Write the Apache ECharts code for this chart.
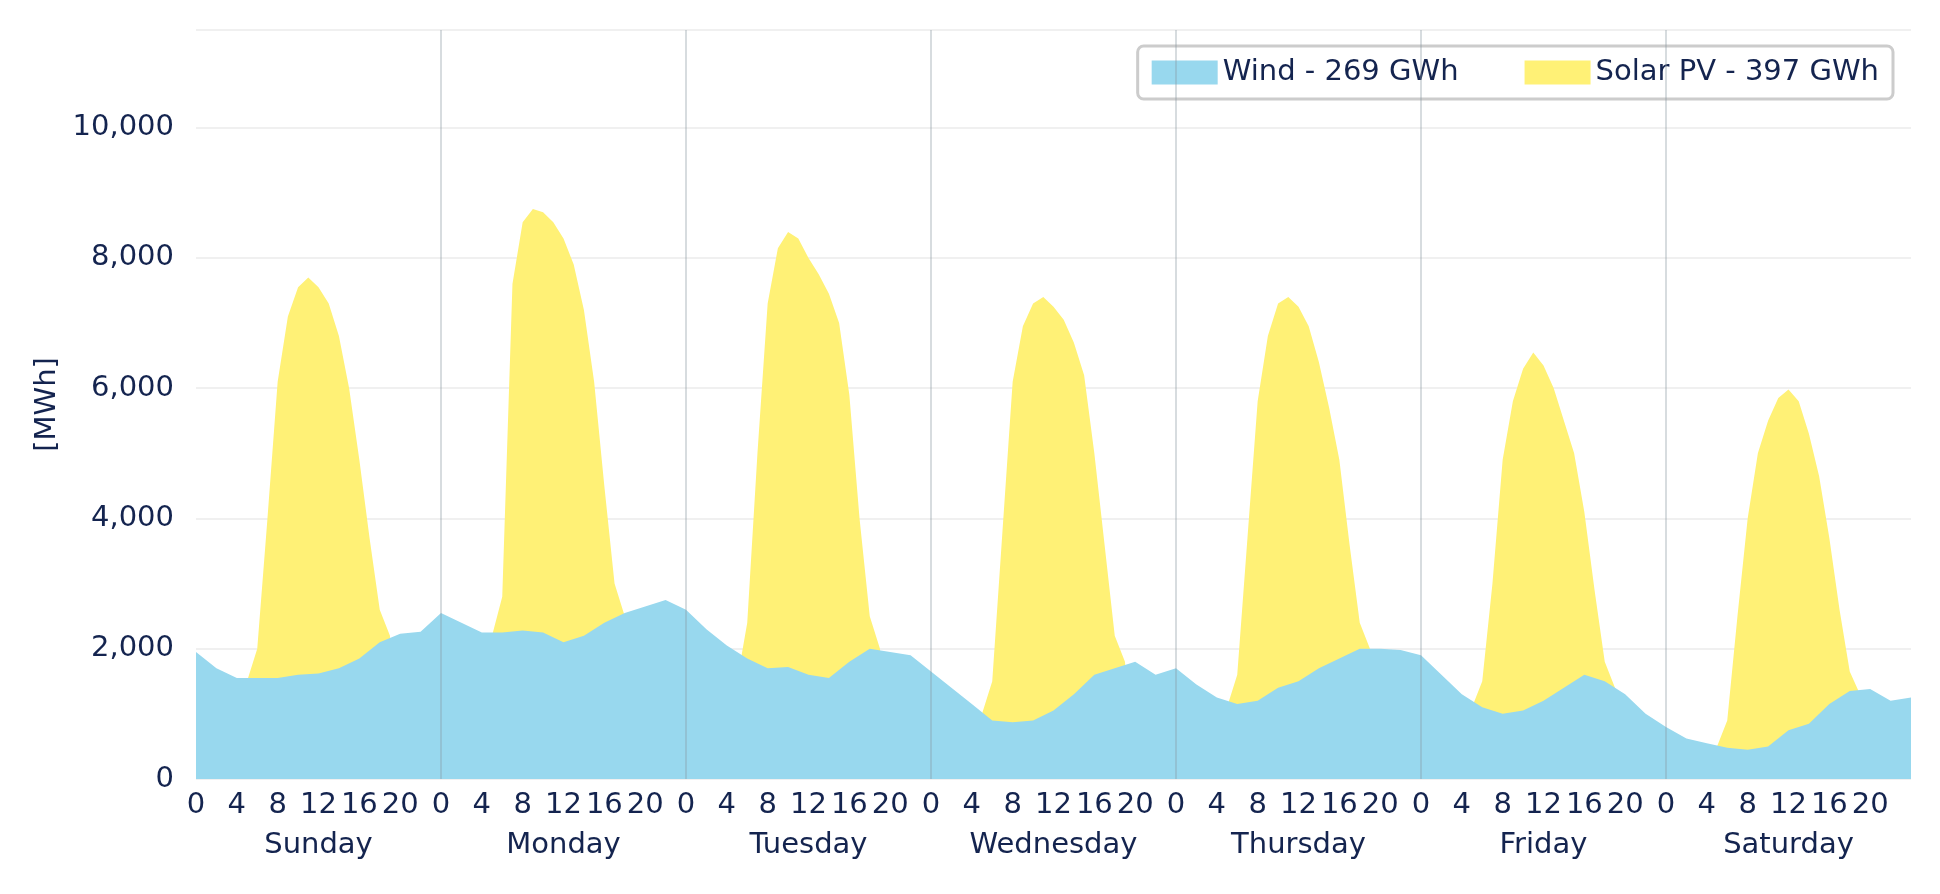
<!DOCTYPE html><html><head><meta charset="utf-8"><script src="https://cdn.jsdelivr.net/npm/echarts@6/dist/echarts.min.js"></script>
<style>html,body{margin:0;padding:0;background:#fff}#c{width:1940px;height:894px}</style></head><body><div id="c"></div><script>
const days=['Sunday','Monday','Tuesday','Wednesday','Thursday','Friday','Saturday'];
// wind every 2 hours
const wind=[1950,1700,1550,1550,1550,1600,1620,1700,1850,2100,2230,2260,
2550,2400,2250,2250,2280,2250,2100,2200,2400,2550,2650,2750,
2600,2300,2050,1850,1700,1720,1600,1550,1800,2000,1950,1900,
1650,1400,1150,900,870,900,1050,1300,1600,1700,1800,1600,
1700,1450,1250,1150,1200,1400,1500,1700,1850,2000,2000,1980,
1900,1600,1300,1100,1000,1050,1200,1400,1600,1500,1300,1000,
800,620,550,480,450,500,750,850,1150,1350,1380,1200,1250];
// solar hourly
const solar=[
0,0,0,0,0,1500,2000,4000,6100,7100,7550,7700,7550,7300,6800,6000,4900,3700,2600,2200,0,0,0,0,
0,0,0,0,0,2200,2800,7600,8550,8750,8700,8550,8300,7900,7200,6100,4500,3000,2500,0,0,0,0,0,
0,0,0,0,0,1500,2400,5000,7300,8150,8400,8300,8000,7750,7450,7000,5900,4000,2500,2000,0,0,0,0,
0,0,0,0,0,1000,1500,3800,6100,6950,7300,7400,7250,7050,6700,6200,5000,3600,2200,1800,0,0,0,0,
0,0,0,0,0,1100,1600,3700,5800,6800,7300,7400,7250,6950,6400,5700,4900,3600,2400,2000,0,0,0,0,
0,0,0,0,0,1100,1500,3000,4900,5800,6300,6550,6350,6000,5500,5000,4100,2900,1800,1400,0,0,0,0,
0,0,0,0,0,500,900,2500,4000,5000,5500,5850,5980,5800,5300,4650,3700,2600,1650,1300,0,0,0,0];
const windPts=wind.map((v,i)=>[Math.min(i*2,168),v]);
const solarPts=solar.map((v,i)=>[i,v]);
const navy='#14244f',F='DejaVu Sans';
const dayLines=days.slice(1).map((d,i)=>({xAxis:(i+1)*24}));
const ch=echarts.init(document.getElementById('c'));
ch.setOption({animation:false,
grid:{left:196,right:29,top:30,bottom:115},
legend:{right:47,top:46,icon:'rect',itemWidth:66,itemHeight:24,itemGap:66,padding:[12,14],borderColor:'#cccccc',borderWidth:3,borderRadius:6,
 textStyle:{color:navy,fontFamily:F,fontSize:29},data:['Wind - 269 GWh','Solar PV - 397 GWh']},
xAxis:[{type:'value',min:0,max:168,interval:4,axisLine:{show:false},axisTick:{show:false},splitLine:{show:false},
 axisLabel:{color:navy,fontFamily:F,fontSize:29,margin:12,formatter:v=>v>=168?'':String(v%24)}},
 {type:'category',data:days,position:'bottom',offset:44,boundaryGap:true,axisLine:{show:false},axisTick:{show:false},
 axisLabel:{color:navy,fontFamily:F,fontSize:29,interval:0},splitLine:{show:false}}],
yAxis:{type:'value',min:0,max:11500,interval:2000,name:'[MWh]',nameLocation:'middle',nameGap:130,nameTextStyle:{color:navy,fontFamily:F,fontSize:29},
 axisLine:{show:false},axisTick:{show:false},axisLabel:{color:navy,fontFamily:F,fontSize:29,margin:22,formatter:v=>v>10000?'':v.toLocaleString('en-US')},
 splitLine:{lineStyle:{color:'#ebebeb',width:1.5}}},
series:[
{name:'Solar PV - 397 GWh',type:'line',data:solarPts,symbol:'none',lineStyle:{width:0},itemStyle:{color:'#fff176'},areaStyle:{color:'#fff176',opacity:1},z:2},
{name:'Wind - 269 GWh',type:'line',data:windPts,symbol:'none',lineStyle:{width:0},itemStyle:{color:'#98d8ee'},areaStyle:{color:'#98d8ee',opacity:1},z:3,
 markLine:{silent:true,symbol:'none',label:{show:false},lineStyle:{color:'#8a9aa0',opacity:0.45,width:1.5,type:'solid'},data:dayLines,z:5}}]
});
</script></body></html>
